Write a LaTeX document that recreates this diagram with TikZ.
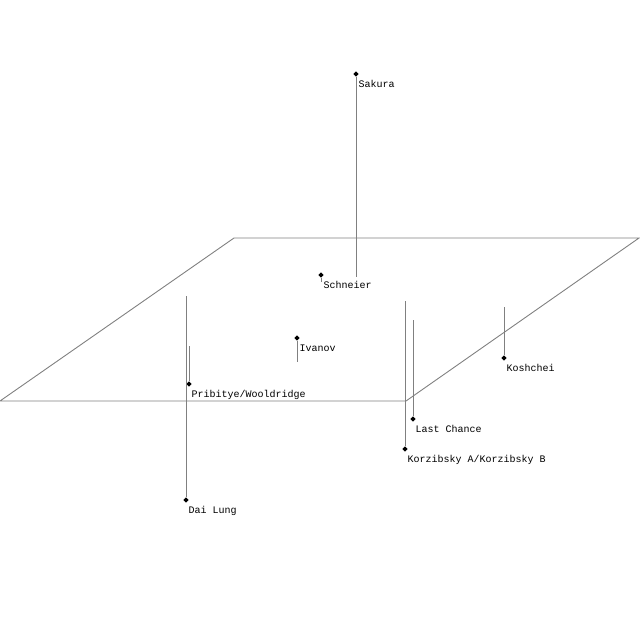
\documentclass[tikz,border=0pt]{standalone}
\usepackage{fontspec}
\setmonofont{Liberation Mono}
\usetikzlibrary{shapes.geometric}

\tikzset{
  sysmark/.style={diamond,fill=black,inner sep=0pt,minimum size=5.5pt},
  sysname/.style={anchor=base west,inner sep=0pt,font=\ttfamily\fontsize{10}{12}\selectfont},
  drop/.style={draw=gray,line width=0.9pt}
}

\begin{document}
\begin{tikzpicture}[x=1pt,y=-1pt]
\useasboundingbox (0,0) rectangle (640,640);
% galactic plane
\coordinate (pl1) at (0,401);
\coordinate (pl2) at (234,238);
\coordinate (pl3) at (639,238);
\coordinate (pl4) at (406,401);
\draw[drop] (pl1) -- (pl2) -- (pl3) -- (pl4) -- cycle;
% systems
\node[sysmark] (sakura) at (356,74) {};
\node[sysmark] (schneier) at (321,275) {};
\node[sysmark] (ivanov) at (297,338) {};
\node[sysmark] (pribitye) at (189,384) {};
\node[sysmark] (dailung) at (186,500) {};
\node[sysmark] (korzibsky) at (405,449) {};
\node[sysmark] (lastchance) at (413,419) {};
\node[sysmark] (koshchei) at (504,358) {};
% feet on the plane
\coordinate (sakura-f) at (356,277);
\coordinate (schneier-f) at (321,282);
\coordinate (ivanov-f) at (297,362);
\coordinate (pribitye-f) at (189,346);
\coordinate (dailung-f) at (186,296);
\coordinate (korzibsky-f) at (405,301);
\coordinate (lastchance-f) at (413,320);
\coordinate (koshchei-f) at (504,307);
\draw[drop] (sakura) -- (sakura-f);
\draw[drop] (schneier) -- (schneier-f);
\draw[drop] (ivanov) -- (ivanov-f);
\draw[drop] (pribitye) -- (pribitye-f);
\draw[drop] (dailung) -- (dailung-f);
\draw[drop] (korzibsky) -- (korzibsky-f);
\draw[drop] (lastchance) -- (lastchance-f);
\draw[drop] (koshchei) -- (koshchei-f);
% names
\node[sysname] (sakura-n) at ([shift={(2.5,13.5)}]sakura.center) {Sakura};
\node[sysname] (schneier-n) at ([shift={(2.5,13.5)}]schneier.center) {Schneier};
\node[sysname] (ivanov-n) at ([shift={(2.5,13.5)}]ivanov.center) {Ivanov};
\node[sysname] (pribitye-n) at ([shift={(2.5,13.5)}]pribitye.center) {Pribitye/Wooldridge};
\node[sysname] (dailung-n) at ([shift={(2.5,13.5)}]dailung.center) {Dai Lung};
\node[sysname] (korzibsky-n) at ([shift={(2.5,13.5)}]korzibsky.center) {Korzibsky A/Korzibsky B};
\node[sysname] (lastchance-n) at ([shift={(2.5,13.5)}]lastchance.center) {Last Chance};
\node[sysname] (koshchei-n) at ([shift={(2.5,13.5)}]koshchei.center) {Koshchei};
\end{tikzpicture}
\end{document}
